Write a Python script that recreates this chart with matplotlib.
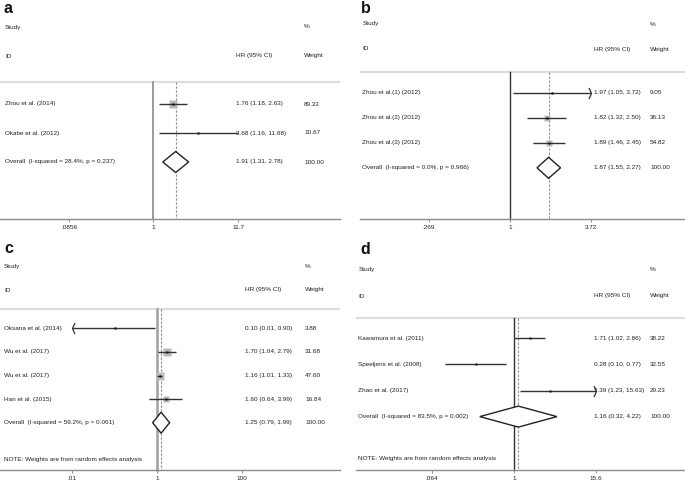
import numpy as np
import matplotlib
matplotlib.use("Agg")
import matplotlib.pyplot as plt
from matplotlib.path import Path
from matplotlib.transforms import blended_transform_factory
from matplotlib.ticker import NullLocator

plt.rcParams['font.family'] = ['Liberation Sans', 'DejaVu Sans']

W, H, DPI = 685, 483, 100

# ---------------- data ----------------
a_studies = ["Zhou et al. (2014)", "Okabe et al. (2012)"]
a_hr = [1.76, 3.68]
a_lo = [1.18, 1.16]
a_hi = [2.63, 11.68]
a_wt = [89.33, 10.67]
a_overall = [1.91, 1.31, 2.78]
a_overall_label = "Overall  (I-squared = 28.4%, p = 0.237)"
a_ticks = [0.0856, 1, 11.7]
a_ticklabels = [".0856", "1", "11.7"]

b_studies = ["Zhou et al.(1) (2012)", "Zhou et al.(2) (2012)", "Zhou et al.(3) (2012)"]
b_hr = [1.97, 1.82, 1.89]
b_lo = [1.05, 1.32, 1.46]
b_hi = [3.72, 2.50, 2.45]
b_wt = [9.05, 36.13, 54.82]
b_overall = [1.87, 1.55, 2.27]
b_overall_label = "Overall  (I-squared = 0.0%, p = 0.966)"
b_ticks = [0.269, 1, 3.72]
b_ticklabels = [".269", "1", "3.72"]

c_studies = ["Oksana et al. (2014)", "Wu et al. (2017)", "Wu et al. (2017)", "Han et al. (2015)"]
c_hr = [0.10, 1.70, 1.16, 1.60]
c_lo = [0.01, 1.04, 1.01, 0.64]
c_hi = [0.90, 2.79, 1.33, 3.99]
c_wt = [3.88, 31.68, 47.60, 16.84]
c_overall = [1.25, 0.79, 1.99]
c_overall_label = "Overall  (I-squared = 59.2%, p = 0.061)"
c_ticks = [0.01, 1, 100]
c_ticklabels = [".01", "1", "100"]

d_studies = ["Kawamura et al. (2011)", "Speeljens et al. (2008)", "Zhao et al. (2017)"]
d_hr = [1.71, 0.28, 3.39]
d_lo = [1.02, 0.10, 1.23]
d_hi = [2.86, 0.77, 15.63]
d_wt = [38.22, 32.55, 29.23]
d_overall = [1.16, 0.32, 4.22]
d_overall_label = "Overall  (I-squared = 83.5%, p = 0.002)"
d_ticks = [0.064, 1, 15.6]
d_ticklabels = [".064", "1", "15.6"]

note_text = "NOTE: Weights are from random effects analysis"

# ---------------- layout (pixels) ----------------
panels = [
    dict(letter="a", studies=a_studies, hr=a_hr, lo=a_lo, hi=a_hi, wt=a_wt, ov=a_overall,
         ovlab=a_overall_label, ticks=a_ticks, ticklabels=a_ticklabels, note=False,
         x0=0, x1=340, ytop=0, yaxis=219, tickpx=(69, 238),
         row0=104, rowsp=29, study_y=27, id_y=56, gray_y=82, note_y=None,
         name_x=5, hr_x=236, wt_x=304, letter_xy=(4, 13), box_k=0.78,
         vcol='#9a9a9a', vlw=1.4),
    dict(letter="b", studies=b_studies, hr=b_hr, lo=b_lo, hi=b_hi, wt=b_wt, ov=b_overall,
         ovlab=b_overall_label, ticks=b_ticks, ticklabels=b_ticklabels, note=False,
         x0=360, x1=685, ytop=0, yaxis=219, tickpx=(429, 591),
         row0=92.5, rowsp=25.1, study_y=24, id_y=49, gray_y=72, note_y=None,
         name_x=362.5, hr_x=593.5, wt_x=650, letter_xy=(361, 13), box_k=0.92,
         vcol='#333333', vlw=1.0),
    dict(letter="c", studies=c_studies, hr=c_hr, lo=c_lo, hi=c_hi, wt=c_wt, ov=c_overall,
         ovlab=c_overall_label, ticks=c_ticks, ticklabels=c_ticklabels, note=True,
         x0=0, x1=340, ytop=240, yaxis=470, tickpx=(72.3, 241.7),
         row0=328.3, rowsp=23.6, study_y=266.7, id_y=290, gray_y=309.3, note_y=459.3,
         name_x=4, hr_x=245, wt_x=305, letter_xy=(4, 253), box_k=1.3,
         vcol='#a0a0a0', vlw=1.8),
    dict(letter="d", studies=d_studies, hr=d_hr, lo=d_lo, hi=d_hi, wt=d_wt, ov=d_overall,
         ovlab=d_overall_label, ticks=d_ticks, ticklabels=d_ticklabels, note=True,
         x0=356, x1=685, ytop=240, yaxis=470, tickpx=(431.7, 596),
         row0=338.3, rowsp=26.1, study_y=269.3, id_y=296, gray_y=318.3, note_y=458.3,
         name_x=358.3, hr_x=594.3, wt_x=650, letter_xy=(360, 254), box_k=0.0,
         vcol='#333333', vlw=1.0),
]

FS = 4.6
TXT = '#222222'
LINE = '#333333'

right_chev = Path([(-0.45, 1.0), (0, 0), (-0.45, -1.0)], [Path.MOVETO, Path.LINETO, Path.LINETO])
left_chev = Path([(0.45, 1.0), (0, 0), (0.45, -1.0)], [Path.MOVETO, Path.LINETO, Path.LINETO])

fig = plt.figure(figsize=(W / DPI, H / DPI), dpi=DPI)
fig.patch.set_facecolor('white')

for p in panels:
    x0, x1, ytop, yaxis = p['x0'], p['x1'], p['ytop'], p['yaxis']
    ax = fig.add_axes([x0 / W, 1 - yaxis / H, (x1 - x0) / W, (yaxis - ytop) / H])
    ax.set_facecolor('none')

    # x scale from tick pixel positions
    lt, ht = np.log10(p['ticks'][0]), np.log10(p['ticks'][-1])
    ppd = (p['tickpx'][1] - p['tickpx'][0]) / (ht - lt)
    p1 = p['tickpx'][0] - lt * ppd
    ax.set_xscale('log')
    ax.set_xlim(10 ** ((x0 - p1) / ppd), 10 ** ((x1 - p1) / ppd))

    # y in row units
    def row(py, p=p):
        return (py - p['row0']) / p['rowsp']
    ax.set_ylim(row(yaxis), row(ytop))

    for s in ['top', 'left', 'right']:
        ax.spines[s].set_visible(False)
    ax.spines['bottom'].set_color('#8c8c8c')
    ax.spines['bottom'].set_linewidth(1.0)
    ax.set_yticks([])
    ax.set_xticks(p['ticks'])
    ax.set_xticklabels(p['ticklabels'])
    ax.xaxis.set_minor_locator(NullLocator())
    ax.tick_params(axis='x', length=2.2, width=0.7, color='#8c8c8c', labelsize=FS,
                   labelcolor=TXT, pad=2.2)

    tr = blended_transform_factory(fig.transFigure, ax.transData)
    def tx(px, y, s, **kw):
        ax.text(px / W, y, s, transform=tr, fontsize=FS, color=TXT, va='center',
                ha='left', clip_on=False, **kw)

    r_gray, r_axis = row(p['gray_y']), row(yaxis)
    ax.axhline(r_gray, color='#dedede', lw=1.6, zorder=1)
    ax.plot([1, 1], [r_gray, r_axis], color=p['vcol'], lw=p['vlw'], zorder=2, clip_on=False)
    ov, ovlo, ovhi = p['ov']
    ax.plot([ov, ov], [r_gray, r_axis], color='#8a8a8a', lw=0.8, ls=(0, (2, 1.6)), zorder=2)

    # headers
    tx(p['name_x'], row(p['study_y']), "Study")
    tx(p['name_x'], row(p['id_y']), "ID")
    tx(p['hr_x'], row(p['id_y']), "HR (95% CI)")
    tx(p['wt_x'], row(p['study_y']), "%")
    tx(p['wt_x'], row(p['id_y']), "Weight")

    lo_lim, hi_lim = p['ticks'][0], p['ticks'][-1]
    n = len(p['studies'])
    for i in range(n):
        hr, lo, hi, wt = p['hr'][i], p['lo'][i], p['hi'][i], p['wt'][i]
        if p['box_k'] > 0:
            side = p['box_k'] * np.sqrt(wt) * 72 / DPI
            ax.plot([hr], [i], marker='s', ms=side, color='#bababa', mec='none', zorder=3)
        lo_c = max(lo, lo_lim)
        hi_c = min(hi, hi_lim)
        ax.plot([lo_c, hi_c], [i, i], color=LINE, lw=1.0, zorder=4, solid_capstyle='butt')
        if hi >= hi_lim:
            ax.plot([hi_c], [i], marker=right_chev, ms=8.0, mfc='none', mec=LINE, mew=0.9, zorder=4)
        if lo <= lo_lim:
            ax.plot([lo_c], [i], marker=left_chev, ms=8.0, mfc='none', mec=LINE, mew=0.9, zorder=4)
        ax.plot([hr], [i], marker='s', ms=1.8, color='#111111', mec='none', zorder=5)
        tx(p['name_x'], i, p['studies'][i])
        tx(p['hr_x'], i, f"{hr:.2f} ({lo:.2f}, {hi:.2f})")
        tx(p['wt_x'], i, f"{wt:.2f}")

    # overall diamond
    h = 10.5 / p['rowsp']
    ax.fill([ovlo, ov, ovhi, ov], [n, n - h, n, n + h], facecolor='white',
            edgecolor='#222222', lw=1.0, zorder=5)
    tx(p['name_x'], n, p['ovlab'])
    tx(p['hr_x'], n, f"{ov:.2f} ({ovlo:.2f}, {ovhi:.2f})")
    tx(p['wt_x'], n, f"{sum(p['wt']):.2f}")

    if p['note']:
        tx(p['name_x'], row(p['note_y']), note_text)

    lx, ly = p['letter_xy']
    fig.text(lx / W, 1 - ly / H, p['letter'], fontsize=11.5, fontweight='bold',
             color='#111111', va='baseline', ha='left')

fig.savefig("out.png", dpi=DPI)
